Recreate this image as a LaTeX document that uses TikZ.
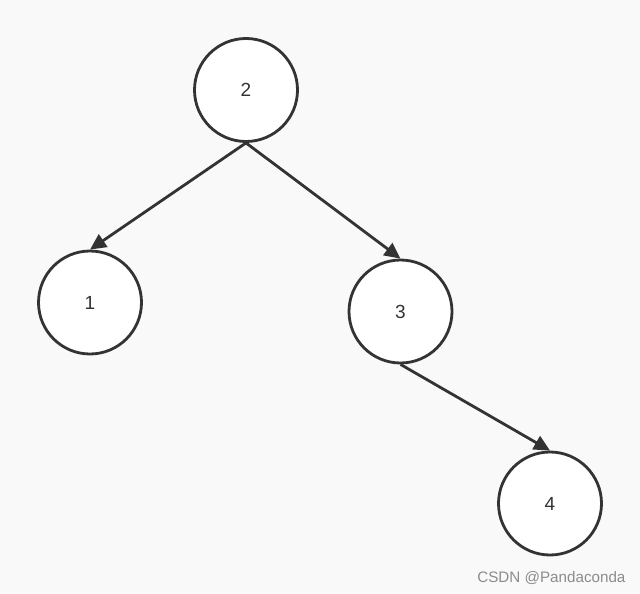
\documentclass[tikz,border=0pt]{standalone}
\usepackage{fontspec}
\setmainfont{Liberation Sans}
\usetikzlibrary{arrows.meta}
\definecolor{bg}{RGB}{249,249,249}
\definecolor{ink}{RGB}{51,51,51}
\definecolor{wm}{RGB}{140,140,140}
\begin{document}
\begin{tikzpicture}[x=1pt,y=-1pt,
  tnode/.style={circle,draw=ink,fill=white,line width=2.8pt,minimum size=103pt,inner sep=0pt,font=\fontsize{19}{22}\selectfont,text=ink},
  edge/.style={draw=ink,line width=2.8pt,-{Triangle[length=16pt,width=15pt]}}]
\fill[bg] (0,0) rectangle (640,594);
\useasboundingbox (0,0) rectangle (640,594);
\node[tnode] (n2) at (246,90) {2};
\node[tnode] (n1) at (90,302.5) {1};
\node[tnode] (n3) at (400.5,311.5) {3};
\node[tnode] (n4) at (550,503.5) {4};
\draw[edge] (n2.south) -- (n1.north);
\draw[edge] (n2.south) -- (n3.north);
\draw[edge] (n3.south) -- (n4.north);
\node[text=wm,font=\fontsize{15.2}{18}\selectfont,anchor=east] (wmark) at (629,578) {CSDN @Pandaconda};
\end{tikzpicture}
\end{document}
